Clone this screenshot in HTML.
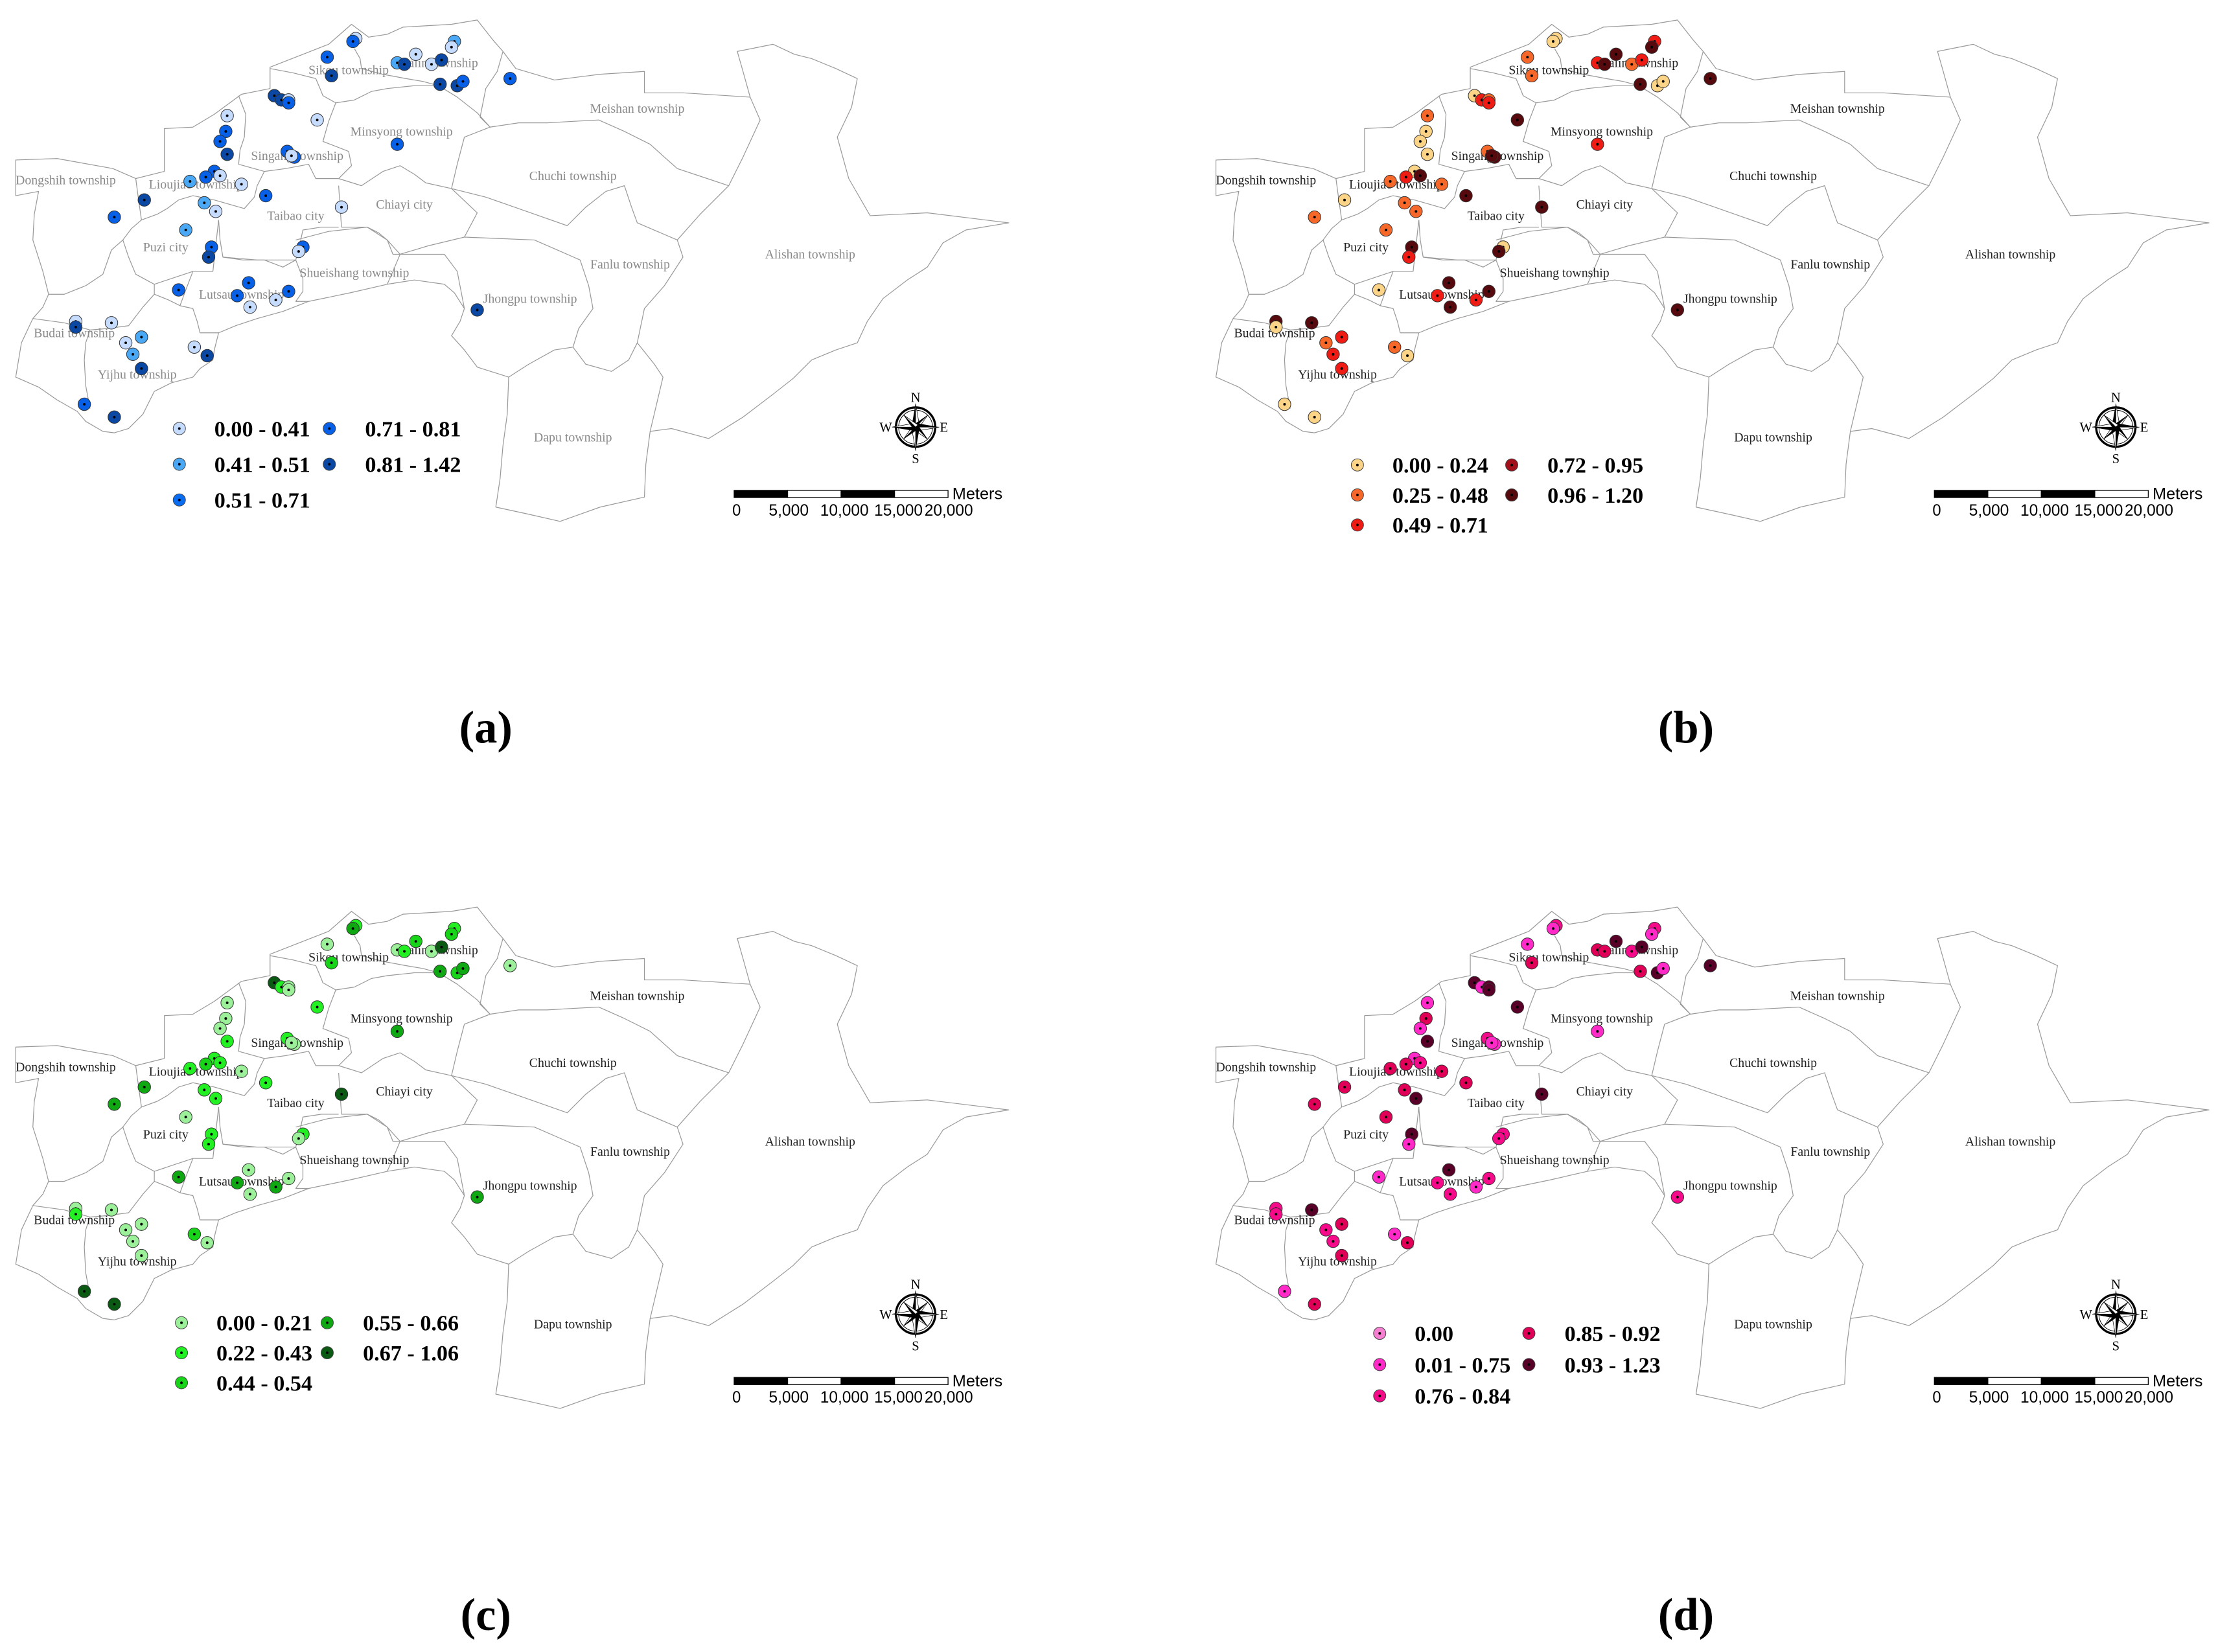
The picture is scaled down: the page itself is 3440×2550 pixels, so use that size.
<!DOCTYPE html>
<html><head><meta charset="utf-8">
<style>
html,body{margin:0;padding:0;background:#fff;}
svg{display:block;}
.tl{font-family:"Liberation Serif",serif;font-size:9px;}
.lg{font-family:"Liberation Serif",serif;font-size:15.5px;font-weight:bold;fill:#000;}
.sb{font-family:"Liberation Sans",sans-serif;font-size:11.5px;fill:#000;}
.cp{font-family:"Liberation Serif",serif;font-size:8.5px;fill:#000;}
.pl{font-family:"Liberation Serif",serif;font-size:32px;font-weight:bold;fill:#000;}
</style></head>
<body>
<svg id="fig" xmlns="http://www.w3.org/2000/svg" width="3440" height="2550" viewBox="0 0 1560 1156.5" preserveAspectRatio="none"></svg>
<script>
// ---- site data (map coordinates, shared by all four panels) ----
const siteX = [249,247,229,232,291,278,283,302,309,318,316,308,320,324,357,192,197,202,202,159,222,158,154,159,201,206,204,278,150,144,154,133,169,101,80,143,151,186,239,130,148,146,212,209,125,174,202,166,193,175,334,53,53,78,99,88,93,99,136,145,59,80];
const siteY = [27,29,40,53,38,44,45,45,42,29,33,59,60,57,55,67,70,70,72,81,84,92,99,108,106,110,109,101,120,124,123,127,129,140,152,142,148,137,145,161,173,180,173,176,203,198,204,207,210,215,217,225,229,226,236,240,248,258,243,249,283,292];
// class index per site for each panel
const classA = [0,3,3,4,0,1,4,0,4,1,0,4,4,3,3,4,4,0,3,0,0,3,3,4,3,3,0,3,3,3,0,1,0,4,3,1,0,3,0,1,3,4,3,0,3,3,3,3,0,0,4,0,4,0,1,0,1,4,0,4,3,4];
const classB = [0,0,1,1,4,2,4,1,2,2,4,4,0,0,4,0,2,1,2,1,4,0,0,0,1,4,4,2,0,2,4,1,1,0,1,1,1,4,4,1,4,2,0,4,0,4,4,2,2,4,4,4,0,4,2,1,2,2,1,0,0,0];
const classC = [1,3,0,2,2,0,1,0,4,1,2,3,2,3,0,4,1,0,0,0,1,0,0,1,1,0,0,3,1,2,1,1,0,3,3,1,1,1,4,0,1,1,1,0,3,0,0,3,3,0,3,0,1,0,0,0,0,0,2,0,4,4];
const classD = [2,1,1,3,4,3,3,2,4,2,1,3,4,1,4,4,1,4,4,1,4,3,1,4,2,1,1,1,1,3,2,3,3,3,3,3,4,3,4,3,4,1,2,2,1,4,2,2,1,2,2,2,2,4,3,2,2,3,1,3,1,3];
// legend labels
const legendA = ["0.00 - 0.41","0.41 - 0.51","0.51 - 0.71","0.71 - 0.81","0.81 - 1.42"];
const legendB = ["0.00 - 0.24","0.25 - 0.48","0.49 - 0.71","0.72 - 0.95","0.96 - 1.20"];
const legendC = ["0.00 - 0.21","0.22 - 0.43","0.44 - 0.54","0.55 - 0.66","0.67 - 1.06"];
const legendD = ["0.00","0.01 - 0.75","0.76 - 0.84","0.85 - 0.92","0.93 - 1.23"];
const scaleLabels = ["0","5,000","10,000","15,000","20,000"];
const townNames = ["Sikou township","Dalin township","Meishan township","Minsyong township","Singang township","Dongshih township","Lioujiao township","Chuchi township","Chiayi city","Taibao city","Puzi city","Alishan township","Shueishang township","Fanlu township","Lutsau township","Jhongpu township","Budai township","Yijhu township","Dapu township"];
const townX = [244,307,446,281,208,46,137,401,283,207,116,567,248,441,169,371,52,96,401];
const townY = [49,44,76,92,109,126,129,123,143,151,173,178,191,185,206,209,233,262,306];

const NS="http://www.w3.org/2000/svg";
const svg=document.getElementById('fig');
function mk(tag,attrs,parent){const e=document.createElementNS(NS,tag);for(const k in attrs)e.setAttribute(k,attrs[k]);(parent||svg).appendChild(e);return e;}

const outer="M11,112 L40,111 L79,118 L95,125 L115,120 L115,90 L135,89 L150,80 L169,66 L189,62 L189,47 L230,31 L246,17 L258,26 L271,24 L282,19 L316,17 L334,14 L345,28 L352,36 L361,48 L388,56 L420,52 L451,50 L451,65 L478,65 L525,68 L520,50 L516,36 L541,31 L556,38 L568,41 L585,48 L600,55 L596,75 L586,96 L594,125 L609,151 L649,149 L706,156 L676,161 L660,170 L649,187 L635,196 L618,209 L607,225 L600,240 L585,245 L568,252 L555,265 L541,276 L520,292 L496,307 L470,300 L455,302 L452,325 L451,348 L420,355 L392,365 L370,360 L347,355 L350,335 L352,312 L355,290 L356,264 L334,257 L325,245 L316,235 L322,225 L325,216 L318,205 L311,199 L290,196 L271,199 L245,205 L216,211 L198,218 L180,223 L165,228 L153,233 L150,245 L149,252 L140,258 L135,264 L120,268 L108,274 L100,290 L90,300 L80,303 L72,302 L60,295 L54,288 L40,280 L27,271 L11,264 L15,240 L23,223 L30,215 L34,206 L30,190 L23,168 L24,150 L27,134 L11,137 Z";
const inner=[
 "M525,68 L532,84 L520,110 L510,130 L490,150 L474,168 L478,180 L465,200 L451,216 L446,240 L458,255 L464,264 L455,302",
 "M343,89 L363,86 L383,86 L400,85 L419,84 L437,92 L455,101 L465,110 L474,118 L495,125 L510,130",
 "M352,36 L348,50 L340,62 L336,82 L343,89",
 "M343,89 L325,96 L320,115 L316,132 L334,149 L325,166",
 "M316,132 L340,138 L360,145 L380,152 L397,158 L410,145 L424,134 L437,130 L442,145 L446,156 L460,162 L474,168",
 "M325,166 L350,167 L374,168 L390,175 L406,182 L412,200 L415,216 L405,230 L401,243 L410,255 L428,260 L440,252 L446,240",
 "M325,166 L300,172 L280,178 L275,190 L271,199",
 "M356,264 L370,255 L388,245 L401,243",
 "M248,70 L260,64 L271,62 L290,60 L307,60 L320,68 L334,79 L343,89",
 "M235,72 L230,85 L226,99 L244,106 L246,116 L237,125",
 "M237,125 L253,130 L268,120 L280,116 L290,122 L298,128 L316,132",
 "M237,130 L238,145 L239,159 L257,159 L265,163 L271,168 L280,178",
 "M248,34 L252,41 L253,48 L268,52 L284,55 L296,57 L307,60",
 "M189,48 L205,51 L221,55 L224,62 L226,67 L235,72 L248,70",
 "M167,67 L172,80 L171,96 L168,105 L167,115 L185,120",
 "M185,120 L200,118 L216,115 L221,125 L230,125 L237,125",
 "M95,125 L97,140 L99,154 L110,150 L117,146 L125,140 L135,137 L150,140 L171,146 L178,138 L180,130 L185,120",
 "M153,154 L154,168 L156,180 L170,182 L185,182 L198,187 L207,182 L210,170 L212,161 L225,159 L237,159",
 "M99,154 L92,160 L86,168 L90,180 L95,192 L108,199 L120,195 L135,190 L149,190 L153,154",
 "M135,190 L130,203 L126,214 L135,216 L138,225 L140,233 L153,233",
 "M156,180 L180,182 L207,182 L212,195 L212,204 L207,211 L216,211",
 "M207,168 L230,162 L257,159 L271,168 L275,178 L290,178 L311,178 L320,190 L325,216",
 "M23,223 L45,226 L63,231 L75,230 L90,228 L100,215 L108,206 L108,199",
 "M108,206 L118,210 L126,214",
 "M86,168 L78,175 L72,192 L60,200 L45,206 L34,206",
 "M63,231 L60,240 L59,252 L60,270 L63,286"
];
const palettes=[
 ["#c6dcff","#4aa8f5","#0a6cf0","#0760e6","#0a48a4"],
 ["#fbd488","#f5682a","#ee1c14","#a3101a","#560a0e"],
 ["#9cf09a","#22f022","#18d418","#0fa812","#0a5a14"],
 ["#f57fd0","#ff2ac8","#f50a8a","#e00058","#580028"]
];
const panels=[
 {name:"a",dx:0,dy:0,cls:classA,leg:legendA,lx:125.5,ly:300,ls:25,lx2:230.5,lab:"#8a8a8a"},
 {name:"b",dx:840,dy:0,cls:classB,leg:legendB,lx:110,ly:325.5,ls:21,lx2:218,lab:"#222"},
 {name:"c",dx:0,dy:621,cls:classC,leg:legendC,lx:127,ly:305,ls:21,lx2:229,lab:"#222"},
 {name:"d",dx:840,dy:621,cls:classD,leg:legendD,lx:125.6,ly:312.4,ls:21.9,lx2:230,lab:"#222"}
];
const scaleX=m=>513.8+m*(663.5-513.8)/20000;
const labPos=[512.5,552,591,628.8,664];
const labLen=[6,28,34,34,34];

panels.forEach((P,pi)=>{
  const g=mk('g',{transform:`translate(${P.dx},${P.dy})`});
  
  
  const map=mk('g',{fill:'none',stroke:'#999','stroke-width':0.55,'stroke-linejoin':'round'},g);
  
  
  mk('path',{d:outer},map);
  inner.forEach(d=>mk('path',{d:d},map));
  townNames.forEach((t,i)=>{
    const e=mk('text',{x:townX[i],y:townY[i]+3,'text-anchor':'middle',class:'tl',fill:P.lab},g);
    e.textContent=t;
    
    
  });
  const pal=palettes[pi];
  siteX.forEach((x,i)=>{
    const s=mk('g',{},g);
    
    
    mk('circle',{cx:x,cy:siteY[i],r:4.4,fill:pal[P.cls[i]],stroke:'#333','stroke-width':0.45},s);
    mk('circle',{cx:x,cy:siteY[i],r:0.9,fill:'#000'},s);
  });
  const lg=mk('g',{},g);
  
  
  P.leg.forEach((t,i)=>{
    const col=i<3?0:1,row=i<3?i:i-3;
    const mx=col?P.lx2:P.lx, my=P.ly+row*P.ls;
    const it=mk('g',{},lg);
    
    
    mk('circle',{cx:mx,cy:my,r:4.3,fill:pal[i],stroke:'#444','stroke-width':0.45},it);
    mk('circle',{cx:mx,cy:my,r:0.9,fill:'#000'},it);
    const tx=mk('text',{x:mx+(col?25:24.5),y:my+5.4,class:'lg'},it);
    tx.textContent=t;
  });
  const cg=mk('g',{transform:'translate(640.8,299) scale(1.1)'},g);
  
  
  mk('circle',{cx:0,cy:0,r:12.5,fill:'none',stroke:'#000','stroke-width':1.4},cg);
  mk('circle',{cx:0,cy:0,r:10.8,fill:'none',stroke:'#000','stroke-width':0.4},cg);
  for(let k=0;k<8;k++){
    const a=k*Math.PI/4, L=k%2?11:15, w=k%2?2:2.6;
    const c=Math.cos(a),sn=Math.sin(a);
    const tip=[L*sn,-L*c], l=[-w*c,-w*sn], r=[w*c,w*sn];
    mk('polygon',{points:`0,0 ${tip[0]},${tip[1]} ${l[0]},${l[1]}`,fill:'#000'},cg);
    mk('polygon',{points:`0,0 ${tip[0]},${tip[1]} ${r[0]},${r[1]}`,fill:'#fff',stroke:'#000','stroke-width':0.3},cg);
  }
  [['N',0,-16],['S',0,23],['W',-19,3],['E',18,3]].forEach(d=>{const t=mk('text',{x:d[1],y:d[2],'text-anchor':'middle',class:'cp'},cg);t.textContent=d[0];});
  const sg=mk('g',{},g);
  
  
  for(let k=0;k<4;k++){
    mk('rect',{x:scaleX(k*5000),y:343.3,width:scaleX(5000)-scaleX(0),height:5,fill:k%2?'#fff':'#000',stroke:'#000','stroke-width':0.6},sg);
  }
  const mt=mk('text',{x:666.5,y:349.5,class:'sb'},sg);mt.textContent='Meters';
  scaleLabels.forEach((t,i)=>{
    const x0=i===0?labPos[i]:labPos[i]-labLen[i]/2;
    const e=mk('text',{x:x0,y:361,textLength:labLen[i],lengthAdjust:'spacingAndGlyphs',class:'sb'},sg);
    e.textContent=t;
  });
  const pl=mk('text',{x:340,y:520,'text-anchor':'middle',class:'pl'},g);
  pl.textContent='('+P.name+')';
  
  
});
</script>
</body></html>
